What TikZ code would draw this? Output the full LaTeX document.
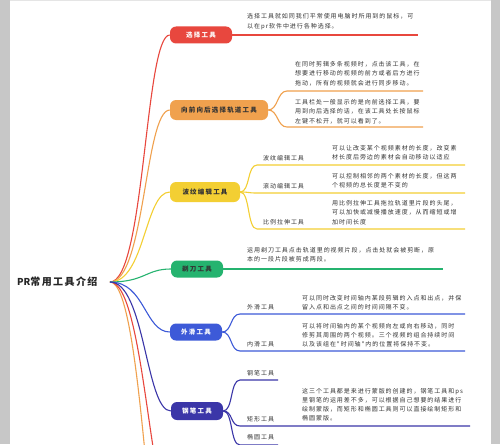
\documentclass[tikz,border=0pt]{standalone}
\usepackage{fontspec}
\setmainfont{Noto Sans CJK SC}
\newfontfamily\descf[LetterSpace=16]{Noto Sans CJK SC}
\newfontfamily\nodef[LetterSpace=18]{Noto Sans CJK SC}
\newfontfamily\rootf[LetterSpace=14]{Noto Sans CJK SC}
\newfontfamily\rootplain{Noto Sans CJK SC}
\definecolor{cred}{HTML}{E8473E}
\definecolor{corange}{HTML}{F0A14E}
\definecolor{cyellow}{HTML}{F3CF33}
\definecolor{cgreen}{HTML}{25B36F}
\definecolor{cblue}{HTML}{3D5AD8}
\definecolor{cindigo}{HTML}{3B36A8}
\definecolor{ctext}{HTML}{333333}
\tikzset{
  topic/.style={rounded corners=6pt, minimum height=17pt, inner sep=0pt,
    font=\nodef\bfseries\fontsize{6.5}{7}\selectfont},
  desc/.style={anchor=north west, inner sep=0pt, align=left, text=ctext,
    font=\descf\fontsize{6}{9.5}\selectfont},
  sub/.style={anchor=base west, inner sep=0pt, text=ctext,
    font=\descf\fontsize{6}{7}\selectfont},
  conn/.style={line width=1.1pt},
  hubcurve/.style={conn, to path={.. controls +(35,0) and +(-25,0) .. (\tikztotarget)}},
  subcurve/.style={conn, to path={.. controls +(10,0) and +(-10,0) .. (\tikztotarget)}},
}
\begin{document}
\begin{tikzpicture}[x=1pt,y=-1pt]
\useasboundingbox (0,0) rectangle (500,444);
\clip (0,0) rectangle (500,444);
\fill[white] (0,0) rectangle (500,444);
\fill[black!22] (0,0) rectangle (10,444);
\fill[black!22] (491,0) rectangle (500,444);
\fill[black!10] (10,0) rectangle (491,1.5);

% root
\node[anchor=west, inner sep=0pt, text=black!85] (root) at (17,282)
  {\rootplain\bfseries\fontsize{9.5}{12}\selectfont PR\rootf\bfseries\fontsize{10}{12}\selectfont 常用工具介绍};
\coordinate (hub) at (110,282);

% topics
\node[topic, fill=cred, text=white, minimum width=62pt] (n1) at (201,35) {选择工具};
\node[topic, fill=corange, text=ctext, minimum width=98pt, minimum height=20pt] (n2) at (219,110) {向前向后选择轨道工具};
\node[topic, fill=cyellow, text=ctext, minimum width=70pt, minimum height=20pt] (n3) at (205,192) {波纹编辑工具};
\node[topic, fill=cgreen, text=ctext, minimum width=52pt] (n4) at (197,269) {剃刀工具};
\node[topic, fill=cblue, text=white, minimum width=52pt] (n5) at (196,332) {外滑工具};
\node[topic, fill=cindigo, text=white, minimum width=52pt, minimum height=18pt] (n6) at (197,411) {钢笔工具};

% hub connectors
\coordinate (off1) at (175,520);
\coordinate (off2) at (175,650);
\draw[hubcurve, corange] (hub) to (off2);
\draw[hubcurve, cred] (hub) to (off1);
\draw[hubcurve, cred] (hub) to (n1.west);
\draw[hubcurve, corange] (hub) to (n2.west);
\draw[hubcurve, cyellow] (hub) to (n3.west);
\draw[hubcurve, cgreen] (hub) to (n4.west);
\draw[hubcurve, cblue] (hub) to (n5.west);
\draw[hubcurve, cindigo] (hub) to (n6.west);

% branch 1
\coordinate (e1) at (418,35);
\draw[conn, cred] (n1.east) -- (e1);
\node[desc, font=\descf\fontsize{6}{10.5}\selectfont] (d1) at (247,13)
  {选择工具就如同我们平常使用电脑时所用到的鼠标，可\\以在pr软件中进行各种选择。};

% branch 2
\coordinate (a21) at (287,91); \coordinate (b21) at (423,91);
\coordinate (a22) at (287,127); \coordinate (b22) at (423,127);
\draw[subcurve, corange] (n2.east) to (a21) -- (b21);
\draw[subcurve, corange] (n2.east) to (a22) -- (b22);
\node[desc] (d21) at (295,61)
  {在同时剪辑多条视频时，点击该工具，在\\想要进行移动的视频的前方或者后方进行\\拖动，所有的视频就会进行同步移动。};
\node[desc] (d22) at (295,99)
  {工具栏处一般显示的是向前选择工具，要\\用到向后选择的话，在该工具处长按鼠标\\左键不松开，就可以看到了。};

% branch 3
\coordinate (a31) at (257,165); \coordinate (b31) at (465,165);
\coordinate (a32) at (257,193); \coordinate (b32) at (465,193);
\coordinate (a33) at (257,229); \coordinate (b33) at (465,229);
\draw[subcurve, cyellow] (n3.east) to (a31) -- (b31);
\draw[subcurve, cyellow] (n3.east) to (a32) -- (b32);
\draw[subcurve, cyellow] (n3.east) to (a33) -- (b33);
\node[sub] (s31) at (263,160.3) {波纹编辑工具};
\node[sub] (s32) at (263,188.3) {滚动编辑工具};
\node[sub] (s33) at (263,224.3) {比例拉伸工具};
\node[desc] (d31) at (332,145)
  {可以让改变某个视频素材的长度，改变素\\材长度后旁边的素材会自动移动以适应};
\node[desc] (d32) at (332,173)
  {可以控制相邻的两个素材的长度，但这两\\个视频的总长度是不变的};
\node[desc] (d33) at (332,200)
  {用比例拉伸工具拖拉轨道里片段的头尾，\\可以加快或减慢播放速度，从而缩短或增\\加时间长度};

% branch 4
\coordinate (e4) at (443,269);
\draw[conn, cgreen] (n4.east) -- (e4);
\node[desc, font=\descf\fontsize{6}{9}\selectfont] (d4) at (247,247)
  {运用剃刀工具点击轨道里的视频片段，点击处就会被剪断，原\\本的一段片段被剪成两段。};

% branch 5
\coordinate (a51) at (240,314); \coordinate (b51) at (465,314);
\coordinate (a52) at (240,351); \coordinate (b52) at (465,351);
\draw[subcurve, cblue] (n5.east) to (a51) -- (b51);
\draw[subcurve, cblue] (n5.east) to (a52) -- (b52);
\node[sub] (s51) at (247,309.3) {外滑工具};
\node[sub] (s52) at (247,346.3) {内滑工具};
\node[desc, font=\descf\fontsize{6}{9.5}\selectfont] (d51) at (302,295)
  {可以同时改变时间轴内某段剪辑的入点和出点，并保\\留入点和出点之间的时间间隔不变。};
\node[desc, font=\descf\fontsize{6}{9}\selectfont] (d52) at (302,323)
  {可以将时间轴内的某个视频向左或向右移动，同时\\修剪其周围的两个视频。三个视频的组合持续时间\\以及该组在"时间轴"内的位置将保持不变。};

% branch 6
\coordinate (a61) at (240,380); \coordinate (b61) at (278,380);
\coordinate (a62) at (240,426); \coordinate (b62) at (470,426);
\coordinate (a63) at (240,445); \coordinate (b63) at (278,445);
\draw[subcurve, cindigo] (n6.east) to (a61) -- (b61);
\draw[subcurve, cindigo] (n6.east) to (a62) -- (b62);
\draw[subcurve, cindigo] (n6.east) to (a63) -- (b63);
\node[sub] (s61) at (247,375.3) {钢笔工具};
\node[sub] (s62) at (247,421.3) {矩形工具};
\node[sub] (s63) at (247,439.3) {椭圆工具};
\node[desc, font=\descf\fontsize{6}{9}\selectfont] (d6) at (302,388)
  {这三个工具都是来进行蒙版的创建的，钢笔工具和ps\\里钢笔的运用差不多，可以根据自己想要的结果进行\\绘制蒙版，而矩形和椭圆工具则可以直接绘制矩形和\\椭圆蒙版。};
\end{tikzpicture}
\end{document}
